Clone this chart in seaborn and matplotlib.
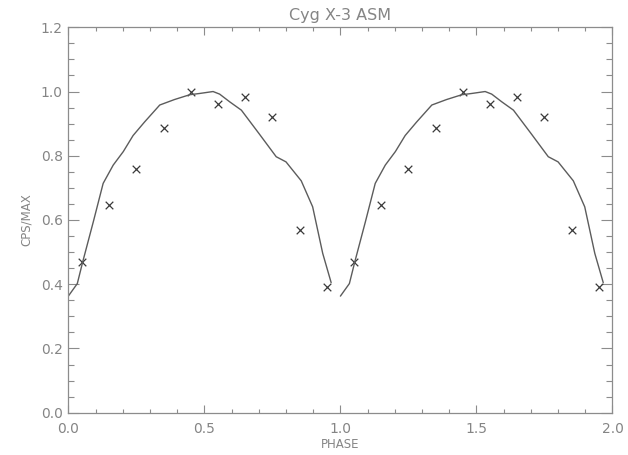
import matplotlib

matplotlib.use("Agg")
import matplotlib.pyplot as plt
import numpy as np
import pandas as pd
import seaborn as sns
from matplotlib.ticker import MultipleLocator

# folded ASM light curve, one cycle (repeated at phase + 1)
model_phase = [0.0, 0.033, 0.053, 0.092, 0.128, 0.165, 0.202, 0.238, 0.28,
               0.336, 0.39, 0.446, 0.483, 0.532, 0.556, 0.593, 0.636, 0.70,
               0.764, 0.80, 0.856, 0.898, 0.935, 0.966]
model_rate = [0.363, 0.402, 0.47, 0.595, 0.714, 0.771, 0.813, 0.863, 0.905,
              0.958, 0.975, 0.99, 0.994, 1.0, 0.992, 0.968, 0.942, 0.87,
              0.797, 0.781, 0.722, 0.641, 0.496, 0.405]

bin_phase = [0.05, 0.15, 0.25, 0.35, 0.45, 0.55, 0.65, 0.75, 0.85, 0.95]
bin_rate = [0.470, 0.647, 0.758, 0.887, 1.0, 0.962, 0.982, 0.922, 0.570, 0.391]

n_cycles = 2
axis_grey = "#8c8c8c"
text_grey = "#858585"

sns.set_style("white")
plt.rcParams["font.family"] = ["DejaVu Sans"]

model = pd.DataFrame({
    "phase": np.concatenate([np.array(model_phase) + k for k in range(n_cycles)]),
    "rate": np.tile(model_rate, n_cycles),
    "cycle": np.repeat(np.arange(n_cycles), len(model_phase)),
})
bins = pd.DataFrame({
    "phase": np.concatenate([np.array(bin_phase) + k for k in range(n_cycles)]),
    "rate": np.tile(bin_rate, n_cycles),
})

fig = plt.figure(figsize=(6.28, 4.55), dpi=100)
ax = fig.add_axes([0.1088, 0.093, 0.8665, 0.847])

sns.lineplot(data=model, x="phase", y="rate", units="cycle", estimator=None,
             sort=False, color="#5c5c5c", linewidth=1.0, ax=ax)
sns.scatterplot(data=bins, x="phase", y="rate", marker="x", s=30,
                color="#3a3a3a", linewidth=0.9, ax=ax)

ax.set_xlim(0, 2.0)
ax.set_ylim(0, 1.2)
ax.xaxis.set_major_locator(MultipleLocator(0.5))
ax.xaxis.set_minor_locator(MultipleLocator(0.1))
ax.yaxis.set_major_locator(MultipleLocator(0.2))
ax.yaxis.set_minor_locator(MultipleLocator(0.05))
ax.xaxis.set_major_formatter(matplotlib.ticker.FormatStrFormatter("%.1f"))
ax.yaxis.set_major_formatter(matplotlib.ticker.FormatStrFormatter("%.1f"))

ax.tick_params(axis="x", which="both", direction="in", top=True, bottom=True,
               colors=axis_grey, labelcolor=text_grey, labelsize=10, pad=7)
ax.tick_params(axis="x", which="major", length=5.5, width=0.8)
ax.tick_params(axis="x", which="minor", length=2.6, width=0.8)
ax.tick_params(axis="y", which="both", direction="in", left=True, right=True,
               colors=axis_grey, labelcolor=text_grey, labelsize=10, pad=4)
ax.tick_params(axis="y", which="major", length=8, width=0.8)
ax.tick_params(axis="y", which="minor", length=4, width=0.8)
for sp in ax.spines.values():
    sp.set_color(axis_grey)
    sp.set_linewidth(0.9)

ax.set_xlabel("PHASE", color=text_grey, fontsize=8.5, labelpad=1)
ax.set_ylabel("CPS/MAX", color=text_grey, fontsize=8.5, labelpad=6)
ax.set_title("Cyg X-3 ASM", color=text_grey, fontsize=11.5, pad=5)

fig.savefig("out.png", dpi=100, facecolor="white")
plt.close(fig)
